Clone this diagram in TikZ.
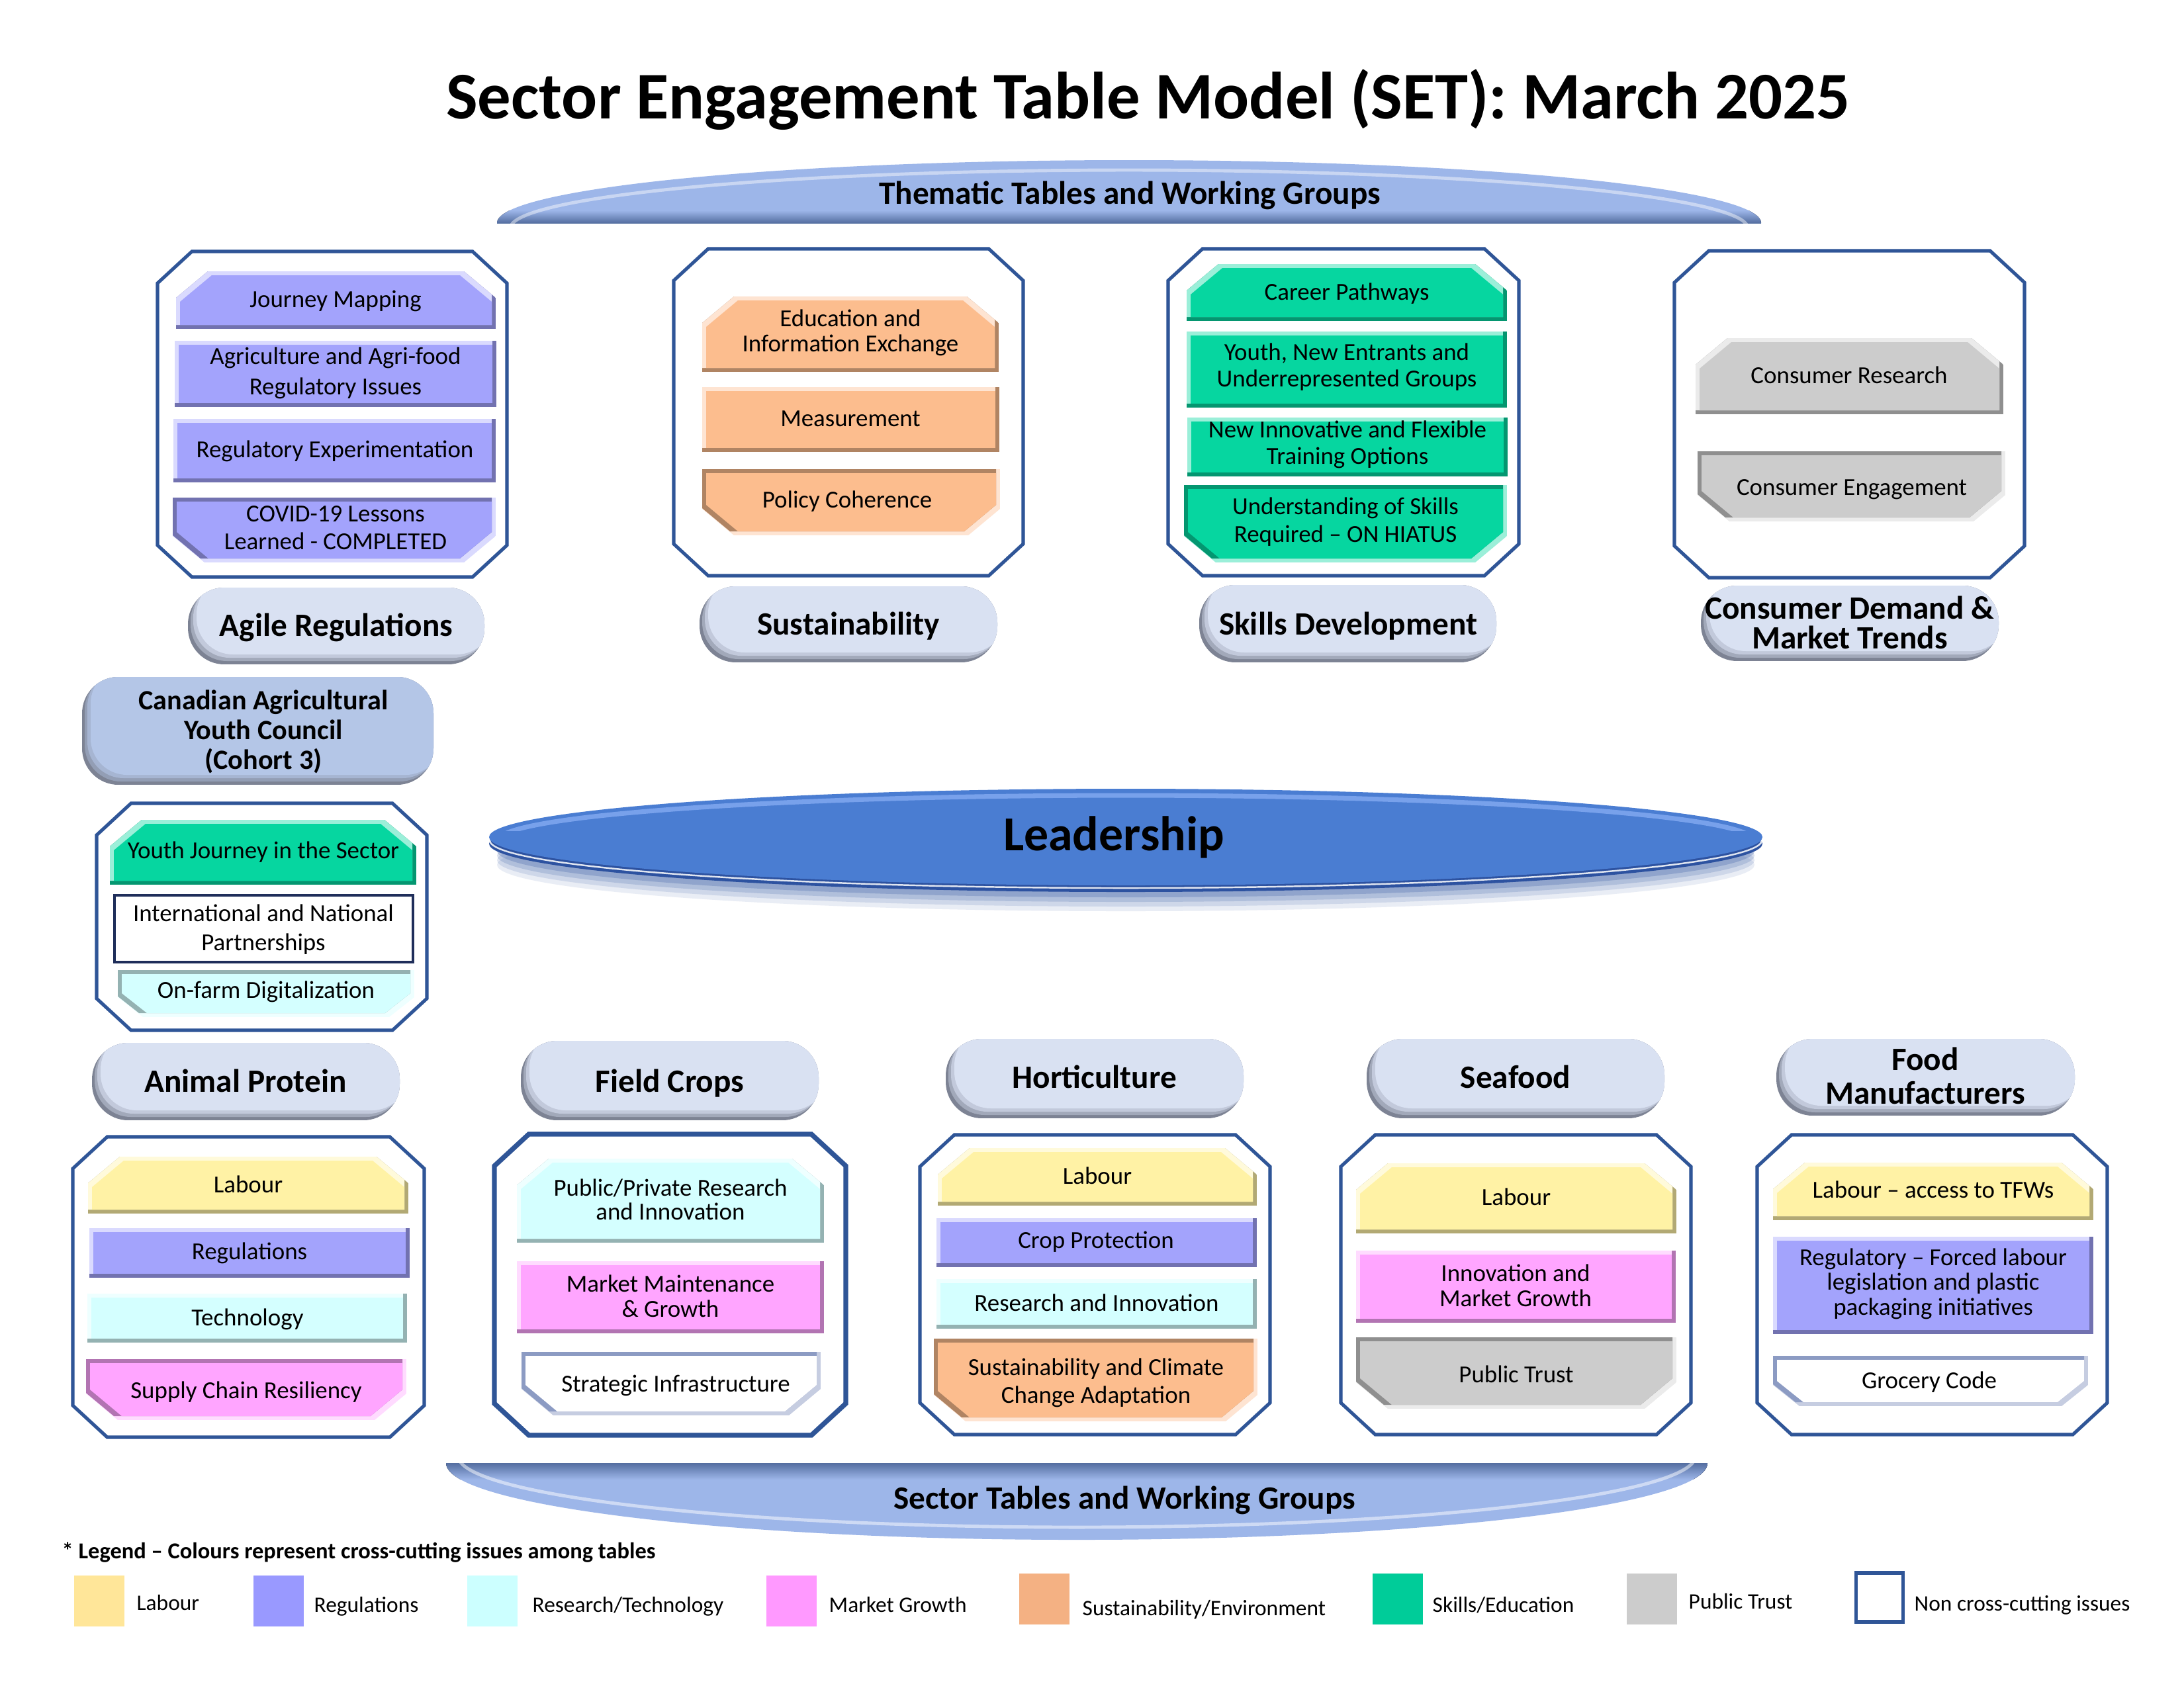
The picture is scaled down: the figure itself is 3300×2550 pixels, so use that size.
\documentclass[tikz,border=0pt]{standalone}
\usepackage{fontspec}
\setmainfont{Carlito}
\definecolor{reg}{RGB}{163,163,252}
\definecolor{sus}{RGB}{252,189,142}
\definecolor{skl}{RGB}{6,214,160}
\definecolor{pub}{RGB}{204,204,204}
\definecolor{lab}{RGB}{255,242,165}
\definecolor{res}{RGB}{212,255,255}
\definecolor{mkt}{RGB}{255,165,255}
\definecolor{framec}{RGB}{47,85,151}
\definecolor{pillc}{RGB}{217,225,242}
\definecolor{cayc}{RGB}{180,198,231}
\definecolor{pillsh}{RGB}{125,131,148}
\definecolor{banner}{RGB}{157,182,233}
\definecolor{bannerd}{RGB}{84,110,160}
\definecolor{lead}{RGB}{74,125,210}
\definecolor{leadd}{RGB}{45,82,160}
\definecolor{leadl}{RGB}{125,165,238}
\definecolor{navy}{RGB}{31,46,90}
\definecolor{wbord}{RGB}{140,155,195}
\definecolor{lgLab}{RGB}{255,230,153}
\definecolor{lgReg}{RGB}{153,153,255}
\definecolor{lgRes}{RGB}{204,255,255}
\definecolor{lgMkt}{RGB}{255,153,255}
\definecolor{lgSus}{RGB}{244,177,131}
\definecolor{lgSkl}{RGB}{0,204,153}
\definecolor{lgPub}{RGB}{204,204,204}

\def\chx{48}\def\chy{40}
\def\fx{52}\def\fy{48}
\newcommand{\pT}[4]{({#1},{#4}) -- ({#1},{#2+\chy}) -- ({#1+\chx},{#2}) -- ({#3-\chx},{#2}) -- ({#3},{#2+\chy}) -- ({#3},{#4}) -- cycle}
\newcommand{\pB}[4]{({#1},{#2}) -- ({#3},{#2}) -- ({#3},{#4-\chy}) -- ({#3-\chx},{#4}) -- ({#1+\chx},{#4}) -- ({#1},{#4-\chy}) -- cycle}
\newcommand{\pR}[4]{({#1},{#2}) rectangle ({#3},{#4})}
\newcommand{\pO}[4]{({#1+\fx},{#2}) -- ({#3-\fx},{#2}) -- ({#3},{#2+\fy}) -- ({#3},{#4-\fy}) -- ({#3-\fx},{#4}) -- ({#1+\fx},{#4}) -- ({#1},{#4-\fy}) -- ({#1},{#2+\fy}) -- cycle}
\newcommand{\bev}[8]{%
  \begin{scope}
    \clip #1{#5}{#6}{#7}{#8};
    \fill[#2] ({#5},{#6}) rectangle ({#7},{#8});
    \fill[#3, shift={(-6,-6)}] #1{#5}{#6}{#7}{#8};
    \fill[#4] #1{#5+6}{#6+6}{#7-6}{#8-6};
  \end{scope}}
\newcommand{\itT}[5]{\bev{\pT}{#1!70!black}{#1!40!white}{#1}{#2}{#3}{#4}{#5}}
\newcommand{\itR}[5]{\bev{\pR}{#1!70!black}{#1!40!white}{#1}{#2}{#3}{#4}{#5}}
\newcommand{\itB}[5]{\bev{\pB}{#1!40!white}{#1!70!black}{#1}{#2}{#3}{#4}{#5}}
\newcommand{\pill}[5]{%
  \begin{scope}
    \clip[rounded corners=0.55cm] ({#2},{#3}) rectangle ({#4},{#5});
    \fill[pillsh] ({#2},{#3}) rectangle ({#4},{#5});
    \fill[#1!40!pillsh, rounded corners=0.55cm, shift={(4,-5)}] ({#2},{#3}) rectangle ({#4},{#5});
    \fill[#1!75!pillsh, rounded corners=0.55cm, shift={(8,-10)}] ({#2},{#3}) rectangle ({#4},{#5});
    \fill[#1, rounded corners=0.55cm, shift={(13,-15)}] ({#2},{#3}) rectangle ({#4},{#5});
  \end{scope}}

\tikzset{
  octframe/.style={draw=framec, line width=1.45pt, fill=white},
  t1/.style={inner sep=0pt, text height=6.8pt, text depth=0pt, font=\fontsize{10.5}{12.6}\selectfont},
  t2/.style={inner sep=0pt, align=center, font=\fontsize{10.5}{#1}\selectfont},
  h1/.style={inner sep=0pt, text height=9pt, text depth=0pt, font=\fontsize{14}{16}\selectfont\bfseries},
  h2/.style={inner sep=0pt, align=center, font=\fontsize{14}{#1}\selectfont\bfseries},
  lg/.style={inner sep=0pt, anchor=west, text height=6.1pt, text depth=0pt, font=\fontsize{9.5}{11}\selectfont},
  sw/.style={inner sep=0pt, minimum width=0.76cm, minimum height=0.77cm},
}

\begin{document}
\begin{tikzpicture}[x=0.01cm, y=-0.01cm]
\useasboundingbox (0,0) rectangle (3300,2550);
\fill[white] (0,0) rectangle (3300,2550);

% Title
\node[inner sep=0pt, text height=18.5pt, text depth=0pt, font=\fontsize{28.65}{32}\selectfont\bfseries] (title) at (1735,147) {Sector Engagement Table Model (SET): March 2025};

% Thematic banner
\begin{scope}
  \clip (700,200) rectangle (2720,337);
  \clip (1706,337) ellipse [x radius=955, y radius=95];
  \fill[banner] (700,200) rectangle (2720,337);
  \fill[top color=banner, bottom color=bannerd] (700,318) rectangle (2720,337);
  \draw[white, opacity=0.45, line width=1.4pt] (1706,345) ellipse [x radius=935, y radius=88];
\end{scope}
\node[h1] (thematic) at (1707,293) {Thematic Tables and Working Groups};

% Sector banner
\begin{scope}
  \clip (600,2211) rectangle (2650,2340);
  \clip (1627,2211) ellipse [x radius=953, y radius=116];
  \fill[banner] (600,2211) rectangle (2650,2340);
  \fill[top color=bannerd, bottom color=banner] (600,2211) rectangle (2650,2236);
  \draw[white, opacity=0.5, line width=1.4pt] (1627,2200) ellipse [x radius=935, y radius=108];
\end{scope}
\node[h1] (sector) at (1699,2265) {Sector Tables and Working Groups};

% Leadership
\foreach \o/\op in {42/0.10, 35/0.14, 28/0.18, 21/0.24} {\fill[leadd, opacity=\op] (1701,{1265+\o}) ellipse [x radius=950, y radius=70];}
\fill[leadd] (1701,1275) ellipse [x radius=962, y radius=73];
\begin{scope}
  \clip (700,1268) rectangle (2700,1400);
  \draw[white, opacity=0.85, line width=0.7pt] (1701,1270) ellipse [x radius=961, y radius=72];
\end{scope}
\fill[lead] (1701,1265) ellipse [x radius=962, y radius=73];
\begin{scope}
  \clip (700,1150) rectangle (2700,1255);
  \draw[leadl, line width=2pt, opacity=0.9] (1701,1270) ellipse [x radius=948, y radius=68];
\end{scope}
\node[inner sep=0pt, text height=13.5pt, text depth=0pt, font=\fontsize{21}{24}\selectfont\bfseries] (leadership) at (1683,1262) {Leadership};

% Top frames
\draw[octframe] \pO{238}{380}{766}{872};
\draw[octframe] \pO{1018}{376}{1546}{870};
\draw[octframe] \pO{1765}{376}{2295}{870};
\draw[octframe] \pO{2530}{379}{3059}{873};

% Agile items
\itT{reg}{266}{410}{749}{497}
\node[t1] (jm) at (507,453) {Journey Mapping};
\itR{reg}{264}{515}{750}{615}
\node[t2=13.1pt] (ar) at (507,564) {Agriculture and Agri-food\\Regulatory Issues};
\itR{reg}{262}{633}{749}{729}
\node[t1] (re) at (506,680) {Regulatory Experimentation};
\itB{reg}{261}{752}{749}{850}
\node[t2=12pt] (cv) at (507,798) {COVID-19 Lessons\\Learned - COMPLETED};

% Sustainability items
\itT{sus}{1061}{448}{1509}{562}
\node[t2=10.8pt] (ei) at (1285,503) {Education and\\Information Exchange};
\itR{sus}{1061}{585}{1510}{683}
\node[t1] (me) at (1285,633) {Measurement};
\itB{sus}{1061}{709}{1511}{809}
\node[t1] (pc) at (1280,756) {Policy Coherence};

% Skills items
\itT{skl}{1793}{399}{2277}{485}
\node[t1] (cp) at (2035,442) {Career Pathways};
\itR{skl}{1793}{501}{2277}{616}
\node[t2=11.4pt] (yn) at (2035,555) {Youth, New Entrants and\\Underrepresented Groups};
\itR{skl}{1794}{631}{2278}{720}
\node[t2=11.4pt] (ni) at (2036,672) {New Innovative and Flexible\\Training Options};
\itB{skl}{1789}{733}{2277}{850}
\node[t2=12pt] (us) at (2033,789) {Understanding of Skills\\Required – ON HIATUS};

% Consumer items
\itT{pub}{2562}{511}{3027}{626}
\node[t1] (cr) at (2794,568) {Consumer Research};
\itB{pub}{2565}{682}{3030}{788}
\node[t1] (ce) at (2798,737) {Consumer Engagement};

% Top labels
\pill{pillc}{284}{888}{732}{1004}
\node[h1] (agile) at (508,946) {Agile Regulations};
\pill{pillc}{1057}{886}{1507}{1001}
\node[h1] (sust) at (1282,944) {Sustainability};
\pill{pillc}{1812}{884}{2261}{1001}
\node[h1] (skills) at (2037,944) {Skills Development};
\pill{pillc}{2570}{885}{3020}{999}
\node[h2=12.8pt] (consumer) at (2795,941) {Consumer Demand \&\\Market Trends};

% CAYC
\pill{cayc}{124}{1023}{655}{1186}
\node[inner sep=0pt, align=center, font=\fontsize{12}{12.8pt}\selectfont\bfseries] (cayc) at (398,1106) {Canadian Agricultural\\Youth Council\\(Cohort 3)};

% Youth frame
\draw[octframe] \pO{146}{1214}{645}{1557};
\itT{skl}{166}{1239}{629}{1337}
\node[t1] (yj) at (398,1286) {Youth Journey in the Sector};
\draw[navy, line width=1.1pt, fill=white] (173,1353) rectangle (624,1454);
\node[t2=12.5pt] (inp) at (398,1405) {International and National\\Partnerships};
{\def\chx{38}\def\chy{30}\itB{res}{178}{1466}{626}{1537}}
\node[t1] (od) at (402,1497) {On-farm Digitalization};

% Bottom labels
\pill{pillc}{139}{1576}{604}{1693}
\node[h1] (ap) at (371,1635) {Animal Protein};
\pill{pillc}{787}{1573}{1237}{1693}
\node[h1] (fc) at (1012,1635) {Field Crops};
\pill{pillc}{1429}{1570}{1879}{1690}
\node[h1] (hort) at (1654,1629) {Horticulture};
\pill{pillc}{2065}{1570}{2515}{1690}
\node[h1] (sea) at (2290,1629) {Seafood};
\pill{pillc}{2684}{1570}{3135}{1686}
\node[h2=14.5pt] (fm) at (2909,1626) {Food\\Manufacturers};

% Animal Protein
\draw[octframe] \pO{110}{1718}{641}{2172};
\itT{lab}{133}{1748}{617}{1834}
\node[t1] (apl) at (375,1791) {Labour};
\itR{reg}{135}{1856}{619}{1931}
\node[t1] (apr) at (377,1892) {Regulations};
\itR{res}{132}{1955}{615}{2029}
\node[t1] (apt) at (374,1991) {Technology};
\itB{mkt}{130}{2054}{614}{2146}
\node[t1] (aps) at (372,2102) {Supply Chain Resiliency};

% Field Crops
\draw[octframe, line width=2.1pt] \pO{747}{1714}{1278}{2169};
\itT{res}{781}{1751}{1245}{1878}
\node[t2=10.2pt] (fcp) at (1013,1813) {Public/Private Research\\and Innovation};
\itR{mkt}{781}{1906}{1245}{2015}
\node[t2=10.8pt] (fcm) at (1013,1959) {Market Maintenance\\\& Growth};
\bev{\pB}{wbord!50!white}{wbord}{white}{788}{2043}{1240}{2139}
\node[t1] (fcs) at (1021,2092) {Strategic Infrastructure};

% Horticulture
\draw[octframe] \pO{1390}{1715}{1919}{2168};
\itT{lab}{1417}{1735}{1899}{1822}
\node[t1] (hl) at (1658,1778) {Labour};
\itR{reg}{1415}{1841}{1899}{1915}
\node[t1] (hc) at (1656,1875) {Crop Protection};
\itR{res}{1415}{1933}{1899}{2008}
\node[t1] (hr) at (1657,1970) {Research and Innovation};
\itB{sus}{1411}{2023}{1900}{2148}
\node[t2=12pt] (hs) at (1656,2090) {Sustainability and Climate\\Change Adaptation};

% Seafood
\draw[octframe] \pO{2026}{1715}{2555}{2168};
\itT{lab}{2049}{1758}{2533}{1864}
\node[t1] (sl) at (2291,1810) {Labour};
\itR{mkt}{2049}{1890}{2532}{1999}
\node[t2=10.8pt] (sim) at (2290,1943) {Innovation and\\Market Growth};
\itB{pub}{2049}{2021}{2533}{2129}
\node[t1] (spt) at (2291,2077) {Public Trust};

% Food Manufacturers
\draw[octframe] \pO{2655}{1715}{3184}{2168};
\itT{lab}{2679}{1757}{3163}{1844}
\node[t1] (fl) at (2921,1799) {Labour – access to TFWs};
\itR{reg}{2679}{1869}{3163}{2016}
\node[t2=10.7pt] (fr) at (2921,1940) {Regulatory – Forced labour\\legislation and plastic\\packaging initiatives};
{\def\chx{40}\def\chy{32}\bev{\pB}{wbord!50!white}{wbord}{white}{2679}{2049}{3155}{2125}}
\node[t1] (fg) at (2915,2086) {Grocery Code};

% Legend
\node[inner sep=0pt, anchor=west, text height=6.3pt, text depth=0pt, font=\fontsize{9.8}{12}\selectfont\bfseries] (legend) at (93,2344) {* Legend – Colours represent cross-cutting issues among tables};
\node[sw, fill=lgLab] (swlab) at (150,2419) {};
\node[lg] (lglab) at (206,2423) {Labour};
\node[sw, fill=lgReg] (swreg) at (421,2419) {};
\node[lg] (lgreg) at (474,2426) {Regulations};
\node[sw, fill=lgRes] (swres) at (744,2419) {};
\node[lg] (lgres) at (804,2426) {Research/Technology};
\node[sw, fill=lgMkt] (swmkt) at (1196,2419) {};
\node[lg] (lgmkt) at (1252,2426) {Market Growth};
\node[sw, fill=lgSus] (swsus) at (1578,2416) {};
\node[lg] (lgsus) at (1635,2431) {Sustainability/Environment};
\node[sw, fill=lgSkl] (swskl) at (2112,2416) {};
\node[lg] (lgskl) at (2164,2426) {Skills/Education};
\node[sw, fill=lgPub] (swpub) at (2496,2416) {};
\node[lg] (lgpub) at (2551,2421) {Public Trust};
\node[inner sep=0pt, minimum width=0.71cm, minimum height=0.74cm, draw=framec, line width=1.6pt, fill=white] (swnon) at (2840,2414) {};
\node[lg] (lgnon) at (2892,2424) {Non cross-cutting issues};
\end{tikzpicture}
\end{document}
